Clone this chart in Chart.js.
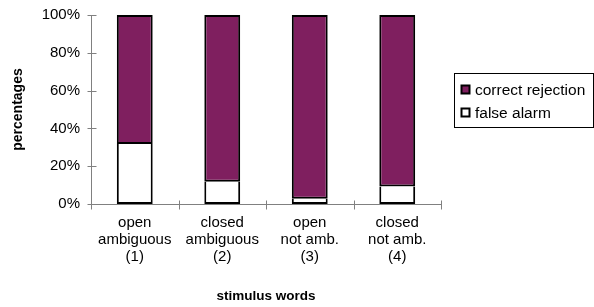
<!DOCTYPE html>
<html>
<head>
<meta charset="utf-8">
<script src="https://cdn.jsdelivr.net/npm/chart.js@4/dist/chart.umd.min.js"></script>
<style>
html,body{margin:0;padding:0;background:#fff;}
#wrap{width:594px;height:307px;position:relative;}
</style>
</head>
<body>
<div id="wrap"><canvas id="c" width="594" height="307"></canvas></div>
<script>
const categories = [["open","ambiguous","(1)"],["closed","ambiguous","(2)"],["open","not amb.","(3)"],["closed","not amb.","(4)"]];
const falseAlarm = [31.7, 11.8, 2.8, 9.2];
const correctRejection = [68.3, 88.2, 97.2, 90.8];
const yTicks = [0, 20, 40, 60, 80, 100];
const seriesNames = ["false alarm", "correct rejection"];

const PURPLE = '#7f1f5f';
const FONT = "'Liberation Sans', Arial, sans-serif";

const axisPlugin = {
  id: 'axisPlugin',
  afterDraw(chart) {
    const ctx = chart.ctx;
    const x = chart.scales.x, y = chart.scales.y;
    ctx.save();
    ctx.strokeStyle = '#808080';
    ctx.lineWidth = 1;
    ctx.beginPath();
    const ax = Math.round(x.left) + 0.5;
    const ay = Math.round(y.bottom) + 0.5;
    ctx.moveTo(ax, y.top); ctx.lineTo(ax, ay);
    ctx.moveTo(ax, ay); ctx.lineTo(x.right, ay);
    yTicks.forEach(v => {
      const py = Math.round(y.getPixelForValue(v)) + 0.5;
      ctx.moveTo(ax - 4, py); ctx.lineTo(ax + 5, py);
    });
    const n = categories.length;
    for (let i = 0; i <= n; i++) {
      const px = Math.round(x.left + i * (x.right - x.left) / n) + 0.5;
      ctx.moveTo(px, ay - 4); ctx.lineTo(px, ay + 5);
    }
    ctx.stroke();
    // legend
    const lx = 454, ly = 73, lw = 139, lh = 54;
    ctx.lineWidth = 1;
    ctx.strokeStyle = '#000';
    ctx.strokeRect(lx + 0.5, ly + 0.5, lw, lh);
    ctx.font = '15.5px ' + FONT;
    ctx.textBaseline = 'middle';
    const items = [[seriesNames[1], PURPLE], [seriesNames[0], '#fff']];
    items.forEach((it, i) => {
      const cy = 90 + i * 23;
      ctx.fillStyle = it[1];
      ctx.fillRect(lx + 7.5, cy - 4.5, 8, 8);
      ctx.lineWidth = 2;
      ctx.strokeStyle = '#000';
      ctx.strokeRect(lx + 7.5, cy - 4.5, 8, 8);
      ctx.fillStyle = '#000';
      ctx.fillText(it[0], lx + 21, cy + 1);
    });
    ctx.restore();
  }
};

new Chart(document.getElementById('c'), {
  type: 'bar',
  data: {
    labels: categories,
    datasets: [
      { label: seriesNames[0], data: falseAlarm, backgroundColor: '#ffffff', borderColor: '#000', borderWidth: 2, borderSkipped: 'top', barPercentage: 0.41, categoryPercentage: 1 },
      { label: seriesNames[1], data: correctRejection, backgroundColor: PURPLE, borderColor: '#000', borderWidth: 2, borderSkipped: false, barPercentage: 0.41, categoryPercentage: 1 }
    ]
  },
  options: {
    responsive: false,
    animation: false,
    events: [],
    layout: { padding: { left: 0, right: 153, top: 15, bottom: 0 } },
    plugins: { legend: { display: false }, tooltip: { enabled: false } },
    scales: {
      x: {
        stacked: true,
        border: { display: false },
        grid: { display: false, drawTicks: false },
        ticks: { color: '#000', font: { family: FONT, size: 15, lineHeight: 1.15 }, padding: 10, maxRotation: 0, autoSkip: false },
        title: { display: true, text: 'stimulus words', color: '#000', font: { family: FONT, size: 13.5, weight: 'bold' }, padding: { top: 10, bottom: 3 } },
        afterFit: s => { s.height = 103; s.paddingLeft = 0; s.paddingRight = 0; }
      },
      y: {
        stacked: true,
        min: 0, max: 100,
        border: { display: false },
        grid: { display: false, drawTicks: false },
        afterBuildTicks: s => { s.ticks = yTicks.map(v => ({ value: v })); },
        ticks: { color: '#000', font: { family: FONT, size: 15 }, padding: 11, callback: v => v + '%' },
        title: { display: true, text: 'percentages', color: '#000', font: { family: FONT, size: 14, weight: 'bold' }, padding: { top: 10, bottom: 4 } },
        afterFit: s => { s.width = 91; s.paddingTop = 0; s.paddingBottom = 0; }
      }
    }
  },
  plugins: [axisPlugin]
});
</script>
</body>
</html>
